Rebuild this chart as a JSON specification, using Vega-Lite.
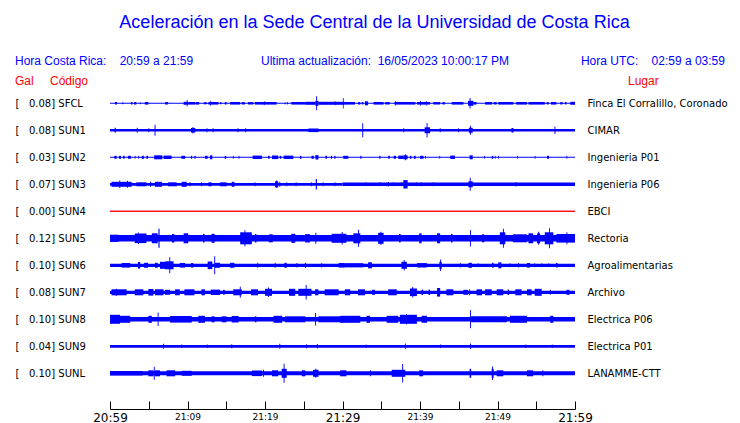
{
"$schema": "https://vega.github.io/schema/vega-lite/v6.json",
"width": 465, "height": 369,
"autosize": "none",
"padding": {"left": 110, "top": 40, "right": 165, "bottom": 14},
"background": "white",
"config": {"view": {"stroke": null}, "axis": {"grid": false, "title": null}},
"title": {"text": "Aceleración en la Sede Central de la Universidad de Costa Rica", "color": "#0000ff", "font": "Liberation Sans", "fontSize": 18, "fontWeight": "normal", "anchor": "middle", "dx": 32, "offset": 8},
"data": {"values": [
{"s":"SFCL","t0":0,"t1":60,"a":0.55},
{"s":"SFCL","t0":0.65,"t1":0.9,"a":1.3},{"s":"SFCL","t0":1.6,"t1":1.72,"a":1.0},{"s":"SFCL","t0":2.7,"t1":2.9,"a":1.2},{"s":"SFCL","t0":3.1,"t1":3.4,"a":1.2},{"s":"SFCL","t0":3.85,"t1":3.95,"a":1.0},{"s":"SFCL","t0":4.5,"t1":4.95,"a":1.3},{"s":"SFCL","t0":7.1,"t1":7.5,"a":1.2},{"s":"SFCL","t0":9.5,"t1":10.1,"a":1.5},{"s":"SFCL","t0":9.9,"t1":10.0,"a":3.3},{"s":"SFCL","t0":10.1,"t1":11.0,"a":1.3},{"s":"SFCL","t0":11.05,"t1":11.5,"a":1.3},{"s":"SFCL","t0":12.1,"t1":12.5,"a":1.0},{"s":"SFCL","t0":12.7,"t1":14.0,"a":1.3},{"s":"SFCL","t0":12.95,"t1":13.05,"a":2.5},{"s":"SFCL","t0":14.2,"t1":14.4,"a":1.0},{"s":"SFCL","t0":14.8,"t1":15.05,"a":1.2},{"s":"SFCL","t0":15.5,"t1":16.8,"a":1.3},{"s":"SFCL","t0":17.0,"t1":17.4,"a":1.2},{"s":"SFCL","t0":17.8,"t1":18.5,"a":1.2},{"s":"SFCL","t0":18.7,"t1":21.5,"a":1.3},{"s":"SFCL","t0":19.85,"t1":19.95,"a":2.0},{"s":"SFCL","t0":22.55,"t1":22.65,"a":1.1},{"s":"SFCL","t0":22.85,"t1":22.95,"a":1.2},{"s":"SFCL","t0":23.4,"t1":25.2,"a":1.3},{"s":"SFCL","t0":25.2,"t1":26.5,"a":1.5},{"s":"SFCL","t0":26.5,"t1":26.9,"a":2.5},{"s":"SFCL","t0":26.6,"t1":26.72,"a":7},{"s":"SFCL","t0":26.9,"t1":30.3,"a":1.5},{"s":"SFCL","t0":29.0,"t1":29.1,"a":2.0},{"s":"SFCL","t0":30.05,"t1":30.15,"a":5.3},{"s":"SFCL","t0":30.3,"t1":31.6,"a":1.3},{"s":"SFCL","t0":32.0,"t1":32.3,"a":1.2},{"s":"SFCL","t0":32.5,"t1":32.7,"a":1.2},{"s":"SFCL","t0":32.9,"t1":33.3,"a":2.0},{"s":"SFCL","t0":34.0,"t1":35.3,"a":1.3},{"s":"SFCL","t0":35.5,"t1":36.1,"a":1.2},{"s":"SFCL","t0":36.7,"t1":39.4,"a":1.3},{"s":"SFCL","t0":36.8,"t1":36.9,"a":2.3},{"s":"SFCL","t0":39.6,"t1":41.3,"a":1.3},{"s":"SFCL","t0":40.0,"t1":40.1,"a":2.5},{"s":"SFCL","t0":40.75,"t1":40.85,"a":2.3},{"s":"SFCL","t0":41.7,"t1":42.6,"a":1.2},{"s":"SFCL","t0":42.9,"t1":43.2,"a":1.2},{"s":"SFCL","t0":44.1,"t1":45.6,"a":1.3},{"s":"SFCL","t0":46.2,"t1":46.9,"a":2.5},{"s":"SFCL","t0":46.4,"t1":46.52,"a":5.3},{"s":"SFCL","t0":46.9,"t1":47.3,"a":1.3},{"s":"SFCL","t0":48.4,"t1":49.3,"a":1.3},{"s":"SFCL","t0":49.5,"t1":49.9,"a":1.2},{"s":"SFCL","t0":50.1,"t1":52.05,"a":1.3},{"s":"SFCL","t0":52.4,"t1":53.8,"a":1.3},{"s":"SFCL","t0":54.0,"t1":56.1,"a":1.3},{"s":"SFCL","t0":56.35,"t1":56.6,"a":1.2},{"s":"SFCL","t0":56.9,"t1":57.6,"a":1.3},{"s":"SFCL","t0":58.1,"t1":58.4,"a":1.2},{"s":"SFCL","t0":58.7,"t1":58.9,"a":1.2},{"s":"SFCL","t0":59.4,"t1":60,"a":1.5},
{"s":"SUN1","t0":0,"t1":60,"a":1.3},
{"s":"SUN1","t0":0.6,"t1":0.75,"a":2.5},{"s":"SUN1","t0":3.45,"t1":3.57,"a":2.5},{"s":"SUN1","t0":4.95,"t1":5.07,"a":2.0},{"s":"SUN1","t0":5.75,"t1":5.87,"a":5.5},{"s":"SUN1","t0":10.45,"t1":11.0,"a":2.3},{"s":"SUN1","t0":10.65,"t1":10.77,"a":3.2},{"s":"SUN1","t0":12.45,"t1":12.57,"a":2.0},{"s":"SUN1","t0":13.25,"t1":13.37,"a":2.0},{"s":"SUN1","t0":16.45,"t1":16.57,"a":2.0},{"s":"SUN1","t0":17.45,"t1":17.57,"a":2.0},{"s":"SUN1","t0":25.6,"t1":26.9,"a":1.8},{"s":"SUN1","t0":32.55,"t1":32.67,"a":7},{"s":"SUN1","t0":37.85,"t1":37.97,"a":2.0},{"s":"SUN1","t0":40.6,"t1":41.3,"a":3.0},{"s":"SUN1","t0":40.85,"t1":40.97,"a":7.3},{"s":"SUN1","t0":42.55,"t1":42.67,"a":2.0},{"s":"SUN1","t0":44.9,"t1":45.02,"a":2.0},{"s":"SUN1","t0":46.3,"t1":46.8,"a":2.5},{"s":"SUN1","t0":46.45,"t1":46.57,"a":4.5},{"s":"SUN1","t0":51.8,"t1":52.05,"a":2.3},{"s":"SUN1","t0":57.35,"t1":57.47,"a":3.8},
{"s":"SUN2","t0":0,"t1":60,"a":0.55},
{"s":"SUN2","t0":0.56,"t1":0.86,"a":1.5},{"s":"SUN2","t0":1.16,"t1":1.42,"a":1.5},{"s":"SUN2","t0":1.7,"t1":1.9,"a":1.5},{"s":"SUN2","t0":2.3,"t1":2.7,"a":1.5},{"s":"SUN2","t0":3.2,"t1":3.3,"a":1.5},{"s":"SUN2","t0":3.65,"t1":3.75,"a":1.5},{"s":"SUN2","t0":4.1,"t1":4.4,"a":1.5},{"s":"SUN2","t0":4.7,"t1":4.9,"a":1.5},{"s":"SUN2","t0":5.7,"t1":6.75,"a":2.0},{"s":"SUN2","t0":6.9,"t1":7.95,"a":1.7},{"s":"SUN2","t0":9.2,"t1":9.7,"a":1.5},{"s":"SUN2","t0":10.45,"t1":10.6,"a":1.5},{"s":"SUN2","t0":10.9,"t1":11.05,"a":1.5},{"s":"SUN2","t0":12.25,"t1":12.6,"a":1.5},{"s":"SUN2","t0":12.9,"t1":13.2,"a":2.0},{"s":"SUN2","t0":14.8,"t1":15.0,"a":1.5},{"s":"SUN2","t0":15.85,"t1":15.95,"a":1.5},{"s":"SUN2","t0":16.6,"t1":16.7,"a":1.5},{"s":"SUN2","t0":18.4,"t1":19.6,"a":1.7},{"s":"SUN2","t0":20.4,"t1":20.6,"a":1.5},{"s":"SUN2","t0":20.9,"t1":21.7,"a":1.8},{"s":"SUN2","t0":21.9,"t1":22.1,"a":1.5},{"s":"SUN2","t0":22.4,"t1":23.65,"a":1.7},{"s":"SUN2","t0":24.5,"t1":24.7,"a":1.5},{"s":"SUN2","t0":26.0,"t1":26.3,"a":1.5},{"s":"SUN2","t0":26.5,"t1":26.9,"a":2.2},{"s":"SUN2","t0":27.8,"t1":28.0,"a":1.5},{"s":"SUN2","t0":28.5,"t1":28.65,"a":1.5},{"s":"SUN2","t0":28.95,"t1":29.1,"a":1.5},{"s":"SUN2","t0":30.1,"t1":30.75,"a":1.5},{"s":"SUN2","t0":32.3,"t1":32.45,"a":1.5},{"s":"SUN2","t0":34.75,"t1":34.9,"a":1.5},{"s":"SUN2","t0":35.9,"t1":36.1,"a":1.5},{"s":"SUN2","t0":36.6,"t1":36.9,"a":1.5},{"s":"SUN2","t0":37.2,"t1":37.85,"a":1.7},{"s":"SUN2","t0":37.85,"t1":38.4,"a":2.0},{"s":"SUN2","t0":38.05,"t1":38.17,"a":3.0},{"s":"SUN2","t0":38.7,"t1":38.9,"a":1.5},{"s":"SUN2","t0":39.2,"t1":39.45,"a":1.5},{"s":"SUN2","t0":40.0,"t1":40.45,"a":1.5},{"s":"SUN2","t0":40.65,"t1":40.75,"a":1.5},{"s":"SUN2","t0":42.5,"t1":42.6,"a":1.5},{"s":"SUN2","t0":43.9,"t1":44.5,"a":1.7},{"s":"SUN2","t0":46.4,"t1":46.8,"a":2.0},{"s":"SUN2","t0":48.25,"t1":48.35,"a":1.5},{"s":"SUN2","t0":49.25,"t1":49.45,"a":1.5},{"s":"SUN2","t0":49.65,"t1":49.75,"a":1.5},{"s":"SUN2","t0":50.1,"t1":50.2,"a":1.5},{"s":"SUN2","t0":52.55,"t1":52.65,"a":1.5},{"s":"SUN2","t0":54.8,"t1":54.9,"a":1.5},{"s":"SUN2","t0":56.4,"t1":56.65,"a":1.5},{"s":"SUN2","t0":58.9,"t1":59.0,"a":1.5},
{"s":"SUN3","t0":0,"t1":30,"a":1.4},{"s":"SUN3","t0":30,"t1":60,"a":1.8},
{"s":"SUN3","t0":0.2,"t1":2.8,"a":2.5},{"s":"SUN3","t0":1.2,"t1":1.32,"a":3.7},{"s":"SUN3","t0":2.2,"t1":2.32,"a":3.5},{"s":"SUN3","t0":3.4,"t1":4.7,"a":2.0},{"s":"SUN3","t0":5.15,"t1":5.3,"a":2.5},{"s":"SUN3","t0":5.8,"t1":6.7,"a":2.5},{"s":"SUN3","t0":7.5,"t1":8.6,"a":2.0},{"s":"SUN3","t0":9.25,"t1":9.9,"a":2.5},{"s":"SUN3","t0":10.25,"t1":10.4,"a":2.0},{"s":"SUN3","t0":11.75,"t1":11.87,"a":2.0},{"s":"SUN3","t0":12.7,"t1":13.1,"a":2.0},{"s":"SUN3","t0":14.2,"t1":15.05,"a":2.0},{"s":"SUN3","t0":15.7,"t1":16.05,"a":2.5},{"s":"SUN3","t0":18.65,"t1":18.77,"a":2.0},{"s":"SUN3","t0":21.3,"t1":21.7,"a":3.0},{"s":"SUN3","t0":21.45,"t1":21.57,"a":3.7},{"s":"SUN3","t0":21.85,"t1":21.97,"a":2.5},{"s":"SUN3","t0":22.75,"t1":22.87,"a":2.0},{"s":"SUN3","t0":23.95,"t1":24.07,"a":2.0},{"s":"SUN3","t0":25.95,"t1":26.07,"a":2.0},{"s":"SUN3","t0":26.55,"t1":26.7,"a":5.3},{"s":"SUN3","t0":27.45,"t1":27.57,"a":2.0},{"s":"SUN3","t0":28.95,"t1":29.07,"a":2.0},{"s":"SUN3","t0":32.95,"t1":33.07,"a":2.0},{"s":"SUN3","t0":34.8,"t1":34.92,"a":2.0},{"s":"SUN3","t0":35.85,"t1":36.0,"a":2.3},{"s":"SUN3","t0":36.55,"t1":36.67,"a":2.0},{"s":"SUN3","t0":37.55,"t1":37.67,"a":2.0},{"s":"SUN3","t0":37.85,"t1":38.4,"a":4.2},{"s":"SUN3","t0":39.55,"t1":39.67,"a":2.0},{"s":"SUN3","t0":40.15,"t1":40.27,"a":2.0},{"s":"SUN3","t0":41.65,"t1":41.77,"a":2.0},{"s":"SUN3","t0":46.25,"t1":46.8,"a":3.0},{"s":"SUN3","t0":46.42,"t1":46.54,"a":6.5},{"s":"SUN3","t0":52.35,"t1":52.47,"a":2.3},
{"s":"SUN4","t0":0,"t1":60,"a":0.55},
{"s":"SUN5","t0":0,"t1":60,"a":3.2},
{"s":"SUN5","t0":0,"t1":1.1,"a":3.6},{"s":"SUN5","t0":3.2,"t1":4.7,"a":4.8},{"s":"SUN5","t0":3.6,"t1":3.72,"a":5.8},{"s":"SUN5","t0":5.4,"t1":6.15,"a":5.0},{"s":"SUN5","t0":6.25,"t1":6.4,"a":9.5},{"s":"SUN5","t0":8.0,"t1":8.3,"a":4.3},{"s":"SUN5","t0":9.5,"t1":10.1,"a":5.0},{"s":"SUN5","t0":12.0,"t1":12.2,"a":4.2},{"s":"SUN5","t0":13.1,"t1":13.5,"a":4.5},{"s":"SUN5","t0":16.8,"t1":18.3,"a":6.0},{"s":"SUN5","t0":17.35,"t1":17.47,"a":8.0},{"s":"SUN5","t0":18.7,"t1":18.9,"a":4.2},{"s":"SUN5","t0":20.5,"t1":21.0,"a":4.0},{"s":"SUN5","t0":23.4,"t1":23.9,"a":4.5},{"s":"SUN5","t0":25.2,"t1":25.8,"a":4.2},{"s":"SUN5","t0":26.5,"t1":26.62,"a":5.5},{"s":"SUN5","t0":28.6,"t1":30.5,"a":4.5},{"s":"SUN5","t0":29.9,"t1":30.02,"a":6.3},{"s":"SUN5","t0":31.4,"t1":32.3,"a":5.0},{"s":"SUN5","t0":32.0,"t1":32.12,"a":8.5},{"s":"SUN5","t0":34.6,"t1":35.3,"a":5.5},{"s":"SUN5","t0":34.9,"t1":35.02,"a":6.5},{"s":"SUN5","t0":37.3,"t1":37.5,"a":4.2},{"s":"SUN5","t0":39.9,"t1":40.2,"a":5.0},{"s":"SUN5","t0":42.2,"t1":42.6,"a":5.0},{"s":"SUN5","t0":44.0,"t1":44.2,"a":4.2},{"s":"SUN5","t0":46.45,"t1":46.57,"a":8.0},{"s":"SUN5","t0":48.0,"t1":48.3,"a":4.0},{"s":"SUN5","t0":50.3,"t1":51.0,"a":6.0},{"s":"SUN5","t0":50.7,"t1":50.82,"a":9.5},{"s":"SUN5","t0":52.0,"t1":53.8,"a":4.0},{"s":"SUN5","t0":54.0,"t1":54.6,"a":5.0},{"s":"SUN5","t0":55.1,"t1":55.5,"a":5.0},{"s":"SUN5","t0":55.25,"t1":55.37,"a":6.5},{"s":"SUN5","t0":56.1,"t1":57.2,"a":6.0},{"s":"SUN5","t0":56.65,"t1":56.77,"a":10},{"s":"SUN5","t0":57.6,"t1":60,"a":4.3},{"s":"SUN5","t0":58.9,"t1":59.02,"a":6.0},
{"s":"SUN6","t0":0,"t1":60,"a":1.6},
{"s":"SUN6","t0":1.5,"t1":2.6,"a":2.3},{"s":"SUN6","t0":3.6,"t1":3.9,"a":3.3},{"s":"SUN6","t0":4.4,"t1":4.9,"a":2.5},{"s":"SUN6","t0":5.8,"t1":6.15,"a":2.5},{"s":"SUN6","t0":6.45,"t1":7.1,"a":3.5},{"s":"SUN6","t0":7.1,"t1":8.2,"a":4.0},{"s":"SUN6","t0":7.65,"t1":7.77,"a":8.0},{"s":"SUN6","t0":9.0,"t1":9.7,"a":2.3},{"s":"SUN6","t0":10.45,"t1":10.75,"a":2.3},{"s":"SUN6","t0":12.6,"t1":13.2,"a":3.8},{"s":"SUN6","t0":13.45,"t1":13.57,"a":9.0},{"s":"SUN6","t0":13.55,"t1":14.2,"a":2.5},{"s":"SUN6","t0":15.5,"t1":16.05,"a":2.5},{"s":"SUN6","t0":19.0,"t1":19.12,"a":2.5},{"s":"SUN6","t0":21.25,"t1":21.37,"a":2.5},{"s":"SUN6","t0":22.5,"t1":22.8,"a":2.5},{"s":"SUN6","t0":24.05,"t1":24.17,"a":2.3},{"s":"SUN6","t0":25.15,"t1":25.3,"a":2.5},{"s":"SUN6","t0":27.25,"t1":27.37,"a":2.3},{"s":"SUN6","t0":29.5,"t1":30.3,"a":2.3},{"s":"SUN6","t0":30.3,"t1":32.7,"a":2.1},{"s":"SUN6","t0":33.3,"t1":33.8,"a":3.0},{"s":"SUN6","t0":37.6,"t1":38.3,"a":3.5},{"s":"SUN6","t0":37.9,"t1":38.02,"a":5.2},{"s":"SUN6","t0":39.6,"t1":40.9,"a":2.2},{"s":"SUN6","t0":42.5,"t1":42.8,"a":3.5},{"s":"SUN6","t0":42.6,"t1":42.72,"a":5.8},{"s":"SUN6","t0":45.15,"t1":45.27,"a":2.2},{"s":"SUN6","t0":46.25,"t1":46.7,"a":2.5},{"s":"SUN6","t0":47.45,"t1":47.57,"a":2.0},{"s":"SUN6","t0":49.3,"t1":49.5,"a":2.5},{"s":"SUN6","t0":50.1,"t1":50.5,"a":3.0},{"s":"SUN6","t0":51.55,"t1":51.67,"a":2.0},{"s":"SUN6","t0":52.65,"t1":52.77,"a":2.2},{"s":"SUN6","t0":53.8,"t1":54.2,"a":2.3},{"s":"SUN6","t0":54.75,"t1":54.87,"a":2.0},{"s":"SUN6","t0":55.65,"t1":55.77,"a":2.0},{"s":"SUN6","t0":56.55,"t1":56.67,"a":2.0},{"s":"SUN6","t0":57.55,"t1":57.75,"a":2.2},
{"s":"SUN7","t0":0,"t1":60,"a":1.6},
{"s":"SUN7","t0":0.2,"t1":2.15,"a":3.0},{"s":"SUN7","t0":0.75,"t1":0.87,"a":3.6},{"s":"SUN7","t0":3.2,"t1":4.3,"a":3.0},{"s":"SUN7","t0":4.95,"t1":5.6,"a":3.3},{"s":"SUN7","t0":5.8,"t1":6.9,"a":3.0},{"s":"SUN7","t0":7.1,"t1":7.75,"a":2.5},{"s":"SUN7","t0":8.4,"t1":9.0,"a":3.0},{"s":"SUN7","t0":9.6,"t1":10.9,"a":3.0},{"s":"SUN7","t0":11.8,"t1":12.25,"a":3.0},{"s":"SUN7","t0":13.0,"t1":14.2,"a":2.7},{"s":"SUN7","t0":14.6,"t1":14.8,"a":2.5},{"s":"SUN7","t0":15.9,"t1":17.0,"a":3.0},{"s":"SUN7","t0":16.75,"t1":16.87,"a":5.5},{"s":"SUN7","t0":18.2,"t1":19.1,"a":3.0},{"s":"SUN7","t0":20.0,"t1":20.9,"a":3.5},{"s":"SUN7","t0":20.4,"t1":20.52,"a":4.8},{"s":"SUN7","t0":23.1,"t1":23.9,"a":3.5},{"s":"SUN7","t0":24.3,"t1":26.0,"a":3.5},{"s":"SUN7","t0":25.25,"t1":25.37,"a":7.3},{"s":"SUN7","t0":26.45,"t1":26.9,"a":3.0},{"s":"SUN7","t0":27.7,"t1":29.5,"a":3.0},{"s":"SUN7","t0":30.3,"t1":31.0,"a":3.0},{"s":"SUN7","t0":32.0,"t1":32.9,"a":3.0},{"s":"SUN7","t0":33.8,"t1":34.2,"a":2.5},{"s":"SUN7","t0":35.9,"t1":37.0,"a":3.0},{"s":"SUN7","t0":38.7,"t1":39.6,"a":3.8},{"s":"SUN7","t0":39.0,"t1":39.12,"a":5.3},{"s":"SUN7","t0":40.2,"t1":40.4,"a":2.7},{"s":"SUN7","t0":41.1,"t1":41.3,"a":2.7},{"s":"SUN7","t0":42.2,"t1":42.6,"a":4.3},{"s":"SUN7","t0":43.4,"t1":44.3,"a":3.0},{"s":"SUN7","t0":45.6,"t1":46.2,"a":2.5},{"s":"SUN7","t0":46.35,"t1":46.47,"a":3.0},{"s":"SUN7","t0":47.3,"t1":48.0,"a":3.0},{"s":"SUN7","t0":48.4,"t1":49.25,"a":3.0},{"s":"SUN7","t0":49.9,"t1":50.75,"a":3.0},{"s":"SUN7","t0":51.3,"t1":51.5,"a":2.7},{"s":"SUN7","t0":52.3,"t1":53.1,"a":3.0},{"s":"SUN7","t0":53.8,"t1":54.4,"a":3.0},{"s":"SUN7","t0":54.8,"t1":55.7,"a":3.5},{"s":"SUN7","t0":56.75,"t1":56.87,"a":2.5},{"s":"SUN7","t0":58.9,"t1":59.3,"a":2.5},
{"s":"SUN8","t0":0,"t1":60,"a":2.3},
{"s":"SUN8","t0":0,"t1":1.3,"a":4.5},{"s":"SUN8","t0":1.3,"t1":2.6,"a":3.5},{"s":"SUN8","t0":4.95,"t1":5.4,"a":3.5},{"s":"SUN8","t0":6.15,"t1":6.27,"a":6.8},{"s":"SUN8","t0":7.75,"t1":10.55,"a":3.3},{"s":"SUN8","t0":11.4,"t1":12.25,"a":3.5},{"s":"SUN8","t0":13.1,"t1":13.5,"a":3.0},{"s":"SUN8","t0":14.4,"t1":15.05,"a":3.0},{"s":"SUN8","t0":15.7,"t1":16.6,"a":3.3},{"s":"SUN8","t0":18.7,"t1":18.9,"a":3.0},{"s":"SUN8","t0":21.1,"t1":22.2,"a":3.5},{"s":"SUN8","t0":22.6,"t1":25.2,"a":3.0},{"s":"SUN8","t0":26.45,"t1":26.57,"a":6.3},{"s":"SUN8","t0":26.9,"t1":30.3,"a":3.0},{"s":"SUN8","t0":29.7,"t1":32.3,"a":3.5},{"s":"SUN8","t0":33.1,"t1":33.55,"a":3.5},{"s":"SUN8","t0":35.7,"t1":37.2,"a":3.5},{"s":"SUN8","t0":37.4,"t1":39.6,"a":4.5},{"s":"SUN8","t0":38.2,"t1":38.32,"a":5.2},{"s":"SUN8","t0":40.2,"t1":40.9,"a":3.5},{"s":"SUN8","t0":46.45,"t1":46.57,"a":9.0},{"s":"SUN8","t0":46.6,"t1":51.2,"a":3.0},{"s":"SUN8","t0":51.6,"t1":53.8,"a":3.5},{"s":"SUN8","t0":56.8,"t1":57.2,"a":3.5},
{"s":"SUN9","t0":0,"t1":60,"a":1.35},
{"s":"SUN9","t0":6.85,"t1":6.97,"a":2.5},{"s":"SUN9","t0":9.2,"t1":9.32,"a":1.8},{"s":"SUN9","t0":12.5,"t1":12.62,"a":1.8},{"s":"SUN9","t0":15.65,"t1":15.77,"a":2.0},{"s":"SUN9","t0":21.85,"t1":21.97,"a":2.5},{"s":"SUN9","t0":25.3,"t1":25.42,"a":2.0},{"s":"SUN9","t0":26.7,"t1":26.82,"a":2.3},{"s":"SUN9","t0":33.0,"t1":33.12,"a":1.8},{"s":"SUN9","t0":38.05,"t1":38.17,"a":2.7},{"s":"SUN9","t0":42.6,"t1":42.72,"a":1.8},{"s":"SUN9","t0":46.45,"t1":46.57,"a":2.8},{"s":"SUN9","t0":53.6,"t1":53.72,"a":1.8},{"s":"SUN9","t0":57.0,"t1":57.12,"a":1.8},
{"s":"SUNL","t0":0,"t1":60,"a":2.0},
{"s":"SUNL","t0":0,"t1":4.2,"a":2.3},{"s":"SUNL","t0":4.95,"t1":5.6,"a":3.0},{"s":"SUNL","t0":5.65,"t1":5.77,"a":6.5},{"s":"SUNL","t0":5.77,"t1":6.45,"a":3.0},{"s":"SUNL","t0":7.3,"t1":8.4,"a":3.0},{"s":"SUNL","t0":9.25,"t1":10.55,"a":2.5},{"s":"SUNL","t0":18.3,"t1":19.6,"a":2.8},{"s":"SUNL","t0":19.75,"t1":19.87,"a":3.5},{"s":"SUNL","t0":20.9,"t1":21.7,"a":3.0},{"s":"SUNL","t0":22.15,"t1":22.8,"a":4.5},{"s":"SUNL","t0":22.4,"t1":22.52,"a":9.5},{"s":"SUNL","t0":24.75,"t1":25.2,"a":3.0},{"s":"SUNL","t0":26.2,"t1":26.9,"a":3.5},{"s":"SUNL","t0":26.5,"t1":26.62,"a":4.5},{"s":"SUNL","t0":29.7,"t1":30.5,"a":3.0},{"s":"SUNL","t0":33.55,"t1":33.67,"a":3.0},{"s":"SUNL","t0":36.35,"t1":38.1,"a":3.5},{"s":"SUNL","t0":37.7,"t1":37.82,"a":9.3},{"s":"SUNL","t0":39.9,"t1":40.4,"a":3.0},{"s":"SUNL","t0":46.4,"t1":46.6,"a":4.5},{"s":"SUNL","t0":49.25,"t1":49.5,"a":4.5},{"s":"SUNL","t0":49.3,"t1":49.42,"a":6.8},{"s":"SUNL","t0":49.9,"t1":50.75,"a":3.0},{"s":"SUNL","t0":53.8,"t1":54.6,"a":3.0},{"s":"SUNL","t0":55.8,"t1":55.92,"a":3.0}
]},
"transform": [
{"calculate": "indexof(['SFCL','SUN1','SUN2','SUN3','SUN4','SUN5','SUN6','SUN7','SUN8','SUN9','SUNL'], datum.s)", "as": "c"},
{"calculate": "datum.c - datum.a / 27", "as": "lo"},
{"calculate": "datum.c + datum.a / 27", "as": "hi"}
],
"resolve": {"axis": {"x": "independent", "y": "independent"}},
"layer": [
{"mark": {"type": "rect"},
 "encoding": {
  "x": {"field": "t0", "type": "quantitative", "scale": {"domain": [0, 60], "nice": false, "zero": false},
        "axis": {"values": [0,5,10,15,20,25,30,35,40,45,50,55,60], "labelExpr": "datum.value % 10 ? '' : ['20:59','21:09','21:19','21:29','21:39','21:49','21:59'][datum.value / 10]", "labelFontSize": {"condition": {"test": "datum.value % 30 == 0", "value": 12}, "value": 9}, "labelFont": "DejaVu Sans", "labelFontWeight": "normal", "labelColor": "black", "tickSize": -8, "tickColor": "black", "tickWidth": 1, "domain": true, "domainColor": "black", "domainWidth": 1, "labelPadding": 11, "labelOverlap": false, "labelFlush": false, "title": null}},
  "x2": {"field": "t1"},
  "y": {"field": "lo", "type": "quantitative", "scale": {"domain": [-2.3444, 11.3222], "reverse": true, "nice": false, "zero": false},
        "axis": {"orient": "left", "values": [0,1,2,3,4,5,6,7,8,9,10], "labelExpr": "['[\u00a0\u00a0\u00a00.08] SFCL','[\u00a0\u00a0\u00a00.08] SUN1','[\u00a0\u00a0\u00a00.03] SUN2','[\u00a0\u00a0\u00a00.07] SUN3','[\u00a0\u00a0\u00a00.00] SUN4','[\u00a0\u00a0\u00a00.12] SUN5','[\u00a0\u00a0\u00a00.10] SUN6','[\u00a0\u00a0\u00a00.08] SUN7','[\u00a0\u00a0\u00a00.10] SUN8','[\u00a0\u00a0\u00a00.04] SUN9','[\u00a0\u00a0\u00a00.10] SUNL'][datum.value]", "labelAlign": "left", "labelBaseline": "middle", "labelPadding": 95, "ticks": false, "domain": false, "labelFont": "DejaVu Sans", "labelFontSize": 10, "labelColor": "black", "labelOverlap": false, "title": null}},
  "y2": {"field": "hi"},
  "color": {"condition": {"test": "datum.s == 'SUN4'", "value": "#ff0000"}, "value": "#0000ff"}
 }},
{"transform": [{"filter": "datum.s == 'SUN4'"}],
 "mark": {"type": "rect", "color": "#ff0000"},
 "encoding": {
  "x": {"field": "t0", "type": "quantitative", "scale": {"domain": [0, 60], "nice": false, "zero": false}, "axis": null},
  "x2": {"field": "t1"},
  "y": {"field": "lo", "type": "quantitative", "scale": {"domain": [-2.3444, 11.3222], "reverse": true, "nice": false, "zero": false},
        "axis": {"orient": "right", "values": [0,1,2,3,4,5,6,7,8,9,10], "labelExpr": "['Finca El Corralillo, Coronado','CIMAR','Ingenieria P01','Ingenieria P06','EBCI','Rectoria','Agroalimentarias','Archivo','Electrica P06','Electrica P01','LANAMME-CTT'][datum.value]", "labelAlign": "left", "labelBaseline": "middle", "labelPadding": 12, "ticks": false, "domain": false, "labelFont": "DejaVu Sans", "labelFontSize": 10, "labelColor": "black", "labelOverlap": false, "title": null}},
  "y2": {"field": "hi"}
 }},
{"data": {"values": [{}]}, "mark": {"type": "text", "align": "left", "baseline": "middle", "font": "Liberation Sans", "fontSize": 12, "color": "#0000ff"},
 "encoding": {"x": {"datum": -12.26, "type": "quantitative", "scale": {"domain": [0, 60], "nice": false, "zero": false}, "axis": null}, "y": {"datum": -1.585, "type": "quantitative", "scale": {"domain": [-2.3444, 11.3222], "reverse": true, "nice": false, "zero": false}, "axis": null}, "text": {"value": "Hora Costa Rica:\u00a0\u00a0\u00a0\u00a020:59 a 21:59"}}},
{"data": {"values": [{}]}, "mark": {"type": "text", "align": "left", "baseline": "middle", "font": "Liberation Sans", "fontSize": 12, "color": "#0000ff"},
 "encoding": {"x": {"datum": 19.48, "type": "quantitative", "scale": {"domain": [0, 60], "nice": false, "zero": false}, "axis": null}, "y": {"datum": -1.585, "type": "quantitative", "scale": {"domain": [-2.3444, 11.3222], "reverse": true, "nice": false, "zero": false}, "axis": null}, "text": {"value": "Ultima actualización:\u00a0\u00a016/05/2023 10:00:17 PM"}}},
{"data": {"values": [{}]}, "mark": {"type": "text", "align": "right", "baseline": "middle", "font": "Liberation Sans", "fontSize": 12, "color": "#0000ff"},
 "encoding": {"x": {"datum": 79.35, "type": "quantitative", "scale": {"domain": [0, 60], "nice": false, "zero": false}, "axis": null}, "y": {"datum": -1.585, "type": "quantitative", "scale": {"domain": [-2.3444, 11.3222], "reverse": true, "nice": false, "zero": false}, "axis": null}, "text": {"value": "Hora UTC:\u00a0\u00a0\u00a0\u00a002:59 a 03:59"}}},
{"data": {"values": [{}]}, "mark": {"type": "text", "align": "left", "baseline": "middle", "font": "Liberation Sans", "fontSize": 12, "color": "#ff0000"},
 "encoding": {"x": {"datum": -12.26, "type": "quantitative", "scale": {"domain": [0, 60], "nice": false, "zero": false}, "axis": null}, "y": {"datum": -0.81, "type": "quantitative", "scale": {"domain": [-2.3444, 11.3222], "reverse": true, "nice": false, "zero": false}, "axis": null}, "text": {"value": "Gal"}}},
{"data": {"values": [{}]}, "mark": {"type": "text", "align": "left", "baseline": "middle", "font": "Liberation Sans", "fontSize": 12, "color": "#ff0000"},
 "encoding": {"x": {"datum": -7.74, "type": "quantitative", "scale": {"domain": [0, 60], "nice": false, "zero": false}, "axis": null}, "y": {"datum": -0.81, "type": "quantitative", "scale": {"domain": [-2.3444, 11.3222], "reverse": true, "nice": false, "zero": false}, "axis": null}, "text": {"value": "Código"}}},
{"data": {"values": [{}]}, "mark": {"type": "text", "align": "left", "baseline": "middle", "font": "Liberation Sans", "fontSize": 12, "color": "#ff0000"},
 "encoding": {"x": {"datum": 66.84, "type": "quantitative", "scale": {"domain": [0, 60], "nice": false, "zero": false}, "axis": null}, "y": {"datum": -0.81, "type": "quantitative", "scale": {"domain": [-2.3444, 11.3222], "reverse": true, "nice": false, "zero": false}, "axis": null}, "text": {"value": "Lugar"}}}
]
}
